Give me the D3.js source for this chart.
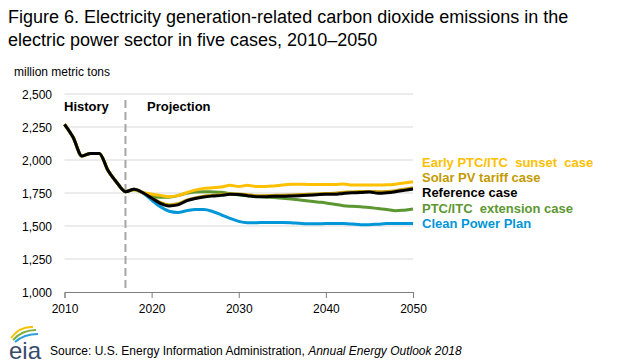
<!DOCTYPE html>
<html>
<head>
<meta charset="utf-8">
<script src="https://cdn.jsdelivr.net/npm/d3@7"></script>
<style>
  body { margin: 0; background: #fff; }
  text { font-family: Arial, "Liberation Sans", sans-serif; }
</style>
</head>
<body>
<div id="chart"></div>
<script>
const history = [2270, 2170, 2030, 2050, 2050, 1920, 1830, 1760];
const projYears = d3.range(2017, 2051);
const reference = [1760, 1778, 1752, 1712, 1672, 1652, 1660, 1690, 1708, 1720, 1727, 1732, 1740, 1738, 1730, 1722, 1722, 1725, 1725, 1727, 1730, 1733, 1737, 1740, 1740, 1747, 1752, 1753, 1758, 1748, 1752, 1760, 1770, 1780];
const solarTariff = [1760, 1778, 1752, 1715, 1678, 1660, 1668, 1695, 1712, 1725, 1732, 1738, 1745, 1743, 1737, 1730, 1730, 1732, 1733, 1735, 1738, 1740, 1743, 1746, 1748, 1755, 1758, 1762, 1762, 1760, 1762, 1768, 1778, 1790];
const earlySunset = [1760, 1775, 1755, 1742, 1732, 1722, 1730, 1752, 1772, 1785, 1790, 1795, 1808, 1800, 1808, 1800, 1800, 1803, 1810, 1816, 1817, 1815, 1815, 1815, 1815, 1818, 1810, 1810, 1810, 1810, 1812, 1817, 1825, 1835];
const extension = [1760, 1775, 1752, 1725, 1718, 1718, 1730, 1748, 1758, 1760, 1758, 1755, 1745, 1735, 1730, 1725, 1720, 1715, 1710, 1705, 1697, 1690, 1682, 1675, 1665, 1654, 1649, 1645, 1640, 1632, 1625, 1615, 1620, 1628];
const cleanPower = [1760, 1778, 1750, 1697, 1645, 1612, 1603, 1615, 1625, 1625, 1610, 1585, 1558, 1535, 1525, 1525, 1527, 1527, 1527, 1525, 1520, 1517, 1517, 1518, 1518, 1518, 1515, 1510, 1510, 1514, 1518, 1518, 1518, 1518];
const yTicks = [1000, 1250, 1500, 1750, 2000, 2250, 2500];
const xTicks = [2010, 2020, 2030, 2040, 2050];

const series = [
  { name: "Clean Power Plan", values: cleanPower, color: "#0096D7" },
  { name: "PTC/ITC  extension case", values: extension, color: "#5D9732" },
  { name: "Early PTC/ITC  sunset  case", values: earlySunset, color: "#FFC000" },
  { name: "Solar PV tariff case", values: solarTariff, color: "#C49A00" },
  { name: "Reference case", values: reference, color: "#000000" }
];
const legendOrder = [2, 3, 4, 1, 0];

var width = 630, height = 364;
var svg = d3.select("#chart").append("svg")
  .attr("width", width).attr("height", height);

var x = d3.scaleLinear().domain([2010, 2050]).range([64.5, 413]);
var y = d3.scaleLinear().domain([1000, 2500]).range([292, 94]);

// title
svg.append("text").attr("x", 8).attr("y", 23).attr("font-size", 18).attr("fill", "#000")
  .text("Figure 6. Electricity generation-related carbon dioxide emissions in the");
svg.append("text").attr("x", 8).attr("y", 46).attr("font-size", 18).attr("fill", "#000")
  .text("electric power sector in five cases, 2010\u20132050");

svg.append("text").attr("x", 14).attr("y", 76).attr("font-size", 12).attr("fill", "#000")
  .text("million metric tons");

// gridlines
svg.append("g").selectAll("line").data(yTicks.slice(1)).enter().append("line")
  .attr("x1", x(2010)).attr("x2", x(2050))
  .attr("y1", d => y(d)).attr("y2", d => y(d))
  .attr("stroke", "#D9D9D9").attr("stroke-width", 1);

// y labels
svg.append("g").selectAll("text").data(yTicks).enter().append("text")
  .attr("x", 52).attr("y", d => y(d) + 4.5)
  .attr("text-anchor", "end").attr("font-size", 12).attr("fill", "#000")
  .text(d => d3.format(",")(d));

// x axis
var xAxis = svg.append("g").attr("transform", "translate(0," + y(1000) + ")")
  .call(d3.axisBottom(x).tickValues(xTicks).tickFormat(d3.format("d")).tickSizeOuter(0).tickSize(6));
xAxis.select(".domain").attr("stroke", "#7F7F7F");
xAxis.selectAll(".tick line").attr("stroke", "#7F7F7F");
xAxis.selectAll(".tick text").attr("font-size", 12).attr("fill", "#000")
  .attr("font-family", "Arial, 'Liberation Sans', sans-serif").attr("dy", "1em");

// history / projection divider
svg.append("line")
  .attr("x1", x(2017)).attr("x2", x(2017)).attr("y1", 100).attr("y2", y(1000))
  .attr("stroke", "#A6A6A6").attr("stroke-width", 2).attr("stroke-dasharray", "8,4");
svg.append("text").attr("x", 64).attr("y", 111).attr("font-size", 13).attr("font-weight", "bold")
  .text("History");
svg.append("text").attr("x", 147).attr("y", 111).attr("font-size", 13).attr("font-weight", "bold")
  .text("Projection");

// lines
var line = d3.line().x(d => x(d[0])).y(d => y(d[1])).curve(d3.curveMonotoneX);
series.forEach(function (s) {
  var pts = history.map((v, i) => [2010 + i, v])
    .concat(s.values.slice(1).map((v, i) => [2018 + i, v]));
  svg.append("path").datum(pts)
    .attr("d", line).attr("fill", "none")
    .attr("stroke", s.color).attr("stroke-width", 3)
    .attr("stroke-linejoin", "round");
});

// labels
var labelY = [167, 182, 197, 213, 228];
legendOrder.forEach(function (si, i) {
  svg.append("text").attr("x", 422).attr("y", labelY[i])
    .attr("font-size", 13).attr("font-weight", "bold")
    .attr("fill", series[si].color).attr("xml:space", "preserve")
    .style("white-space", "pre")
    .text(series[si].name);
});

// eia logo
var logo = svg.append("g").attr("transform", "translate(0,324)");
logo.append("path").attr("d", "M11,14 Q20,2 33,3").attr("fill", "none").attr("stroke", "#F6C100").attr("stroke-width", 2);
logo.append("path").attr("d", "M13,16 Q22,6 36,6").attr("fill", "none").attr("stroke", "#7DB040").attr("stroke-width", 2);
logo.append("path").attr("d", "M15,18 Q24,10 38,10").attr("fill", "none").attr("stroke", "#2A9FD8").attr("stroke-width", 2);
logo.append("text").attr("x", 9).attr("y", 35).attr("font-size", 24)
  .attr("font-family", "'Liberation Serif', 'DejaVu Serif', serif").attr("fill", "#3A4A6B")
  .text("eia");

// source
var src = svg.append("text").attr("x", 50).attr("y", 355).attr("font-size", 12).attr("fill", "#000");
src.append("tspan").text("Source: U.S. Energy Information Administration, ");
src.append("tspan").attr("font-style", "italic").text("Annual Energy Outlook 2018");
</script>
</body>
</html>
